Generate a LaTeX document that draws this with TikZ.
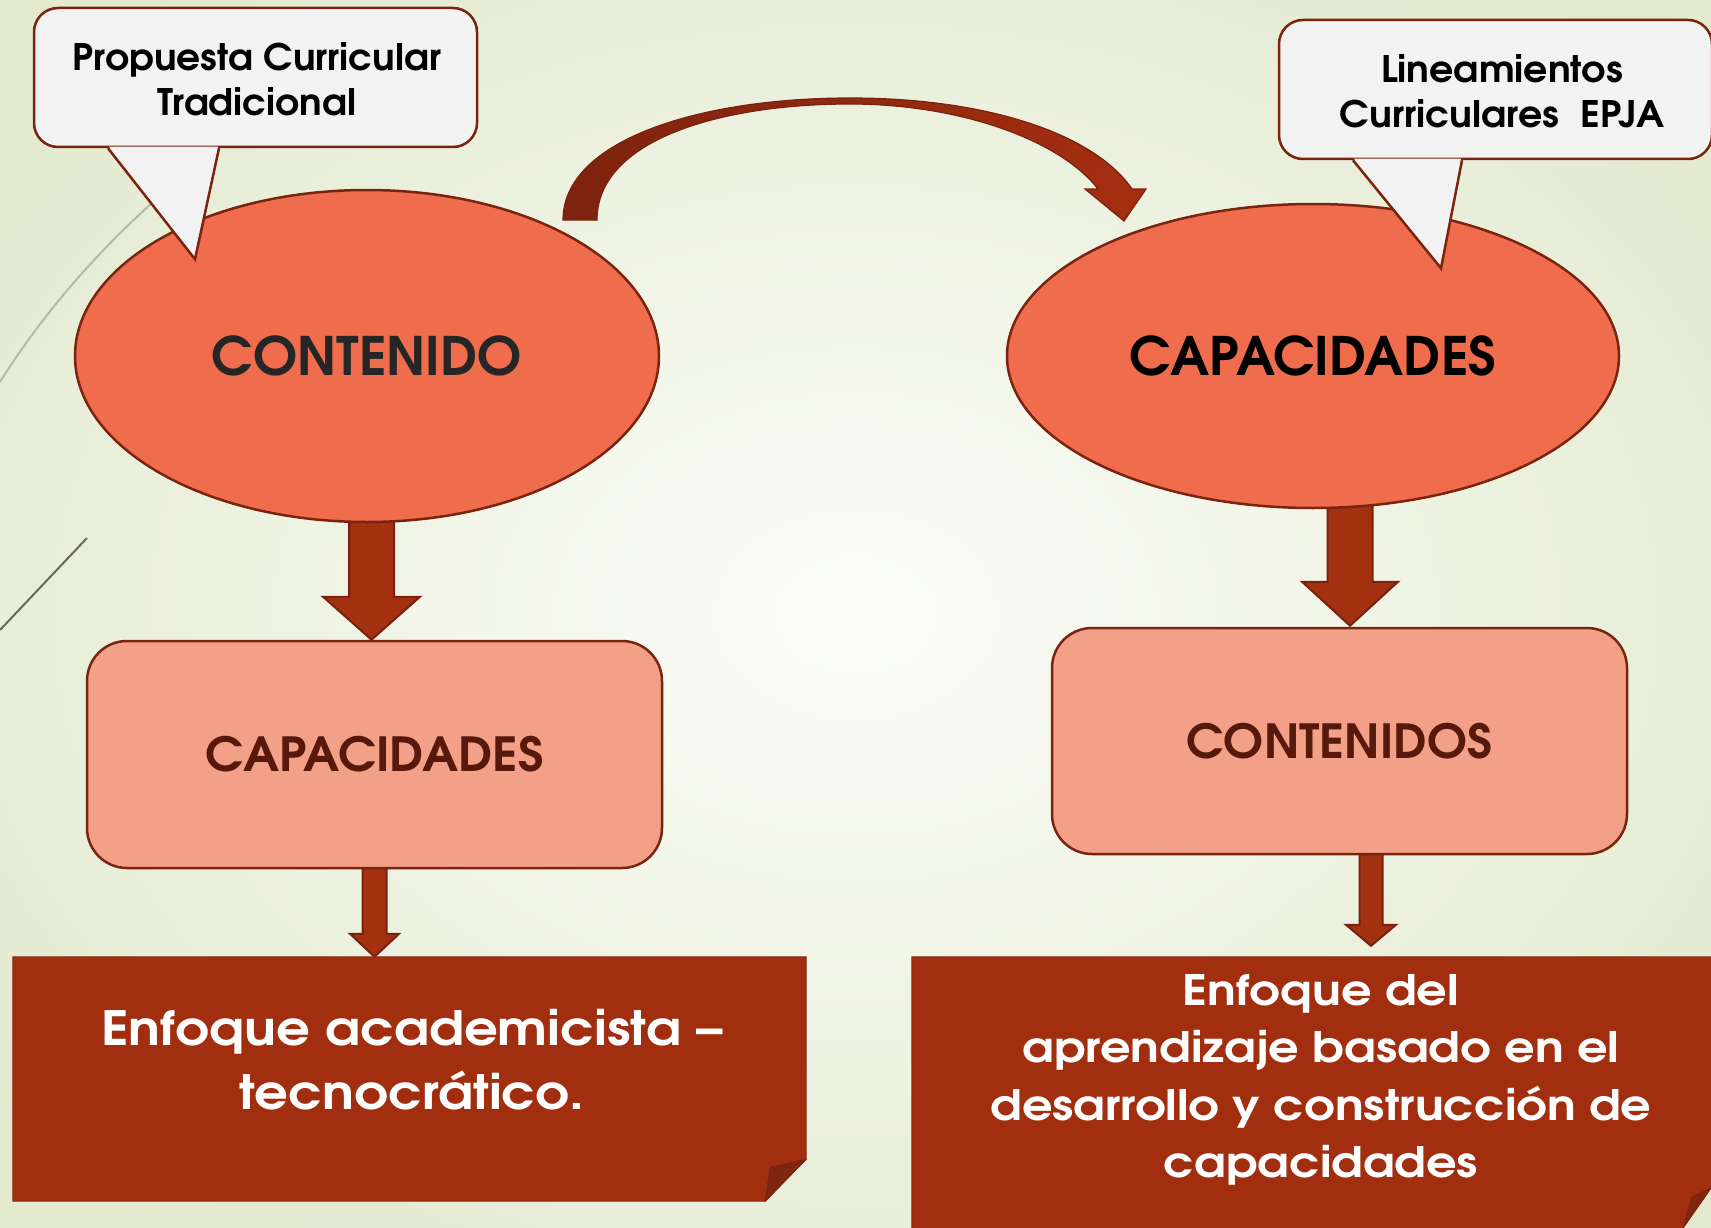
\documentclass[tikz,border=0pt]{standalone}
\usepackage{fontspec}
\usepackage{graphicx}
\usetikzlibrary{shapes.geometric,calc}
\newfontfamily\gothic{texgyreadventor}[Extension=.otf,UprightFont=*-regular,BoldFont=*-bold]
\definecolor{ellfill}{HTML}{EF6C4C}
\definecolor{edgec}{HTML}{7A2410}
\definecolor{boxfill}{HTML}{F3A088}
\definecolor{darkbox}{HTML}{A22E10}
\definecolor{foldc}{HTML}{80250F}
\definecolor{arrfill}{HTML}{A3300F}
\definecolor{arredge}{HTML}{7A2010}
\definecolor{callfill}{HTML}{F2F2F2}
\definecolor{boxtext}{HTML}{56190C}
\definecolor{elltext}{HTML}{262626}
\definecolor{bgin}{HTML}{FCFDF9}
\definecolor{bgout}{HTML}{E2E9CD}
\definecolor{arcL}{HTML}{7D230E}
\definecolor{arcR}{HTML}{A52E10}
\pgfdeclarelayer{bg}\pgfdeclarelayer{mid}\pgfsetlayers{bg,mid,main}
\newcommand\hs[2]{\scalebox{#1}[1]{#2}}
\newcommand\blockarrow[5]{%
  \path[blockarr] let \p1=#1, \p2=#2 in
    (\x2-#3pt,\y1) -- (\x2+#3pt,\y1) -- (\x2+#3pt,\y2+#5pt) -- (\x2+#4pt,\y2+#5pt)
    -- (\x2,\y2) -- (\x2-#4pt,\y2+#5pt) -- (\x2-#3pt,\y2+#5pt) -- cycle;}
\begin{document}
\begin{tikzpicture}[x=1pt,y=-1pt,
  ell/.style={ellipse, draw=edgec, line width=2.5pt, fill=ellfill, inner sep=0pt},
  rbox/.style={rectangle, rounded corners=40pt, draw=edgec, line width=2.5pt, fill=boxfill, inner sep=0pt},
  callbox/.style={rectangle, rounded corners=24pt, draw=edgec, line width=2.5pt, fill=callfill, inner sep=0pt},
  tailfill/.style={fill=callfill},
  tailedge/.style={draw=edgec, line width=2.5pt, line join=miter},
  blockarr/.style={fill=arrfill, draw=arredge, line width=2pt, line join=miter},
  darkshape/.style={fill=darkbox, draw=edgec!60!darkbox, line width=1pt},
  foldshape/.style={fill=foldc, draw=edgec, line width=0.8pt},
  calltext/.style={font=\gothic\bfseries\fontsize{36.5}{45}\selectfont, text=black, align=center, inner sep=0pt},
  elltxt/.style={font=\gothic\bfseries\fontsize{53}{60}\selectfont},
  boxtxt/.style={font=\gothic\bfseries\fontsize{47}{55}\selectfont, text=boxtext},
  whitetxt/.style={text=white, align=center, inner sep=0pt},
]
\useasboundingbox (0,0) rectangle (1711,1228);
% background
\begin{pgfonlayer}{bg}
\shade[inner color=bgin, outer color=bgout] (-250,-200) rectangle (1961,1428);
\draw[color=black!20!bgout, line width=2pt] (0,382) .. controls (45,310) and (100,250) .. (153,202);
\draw[color=black!55!bgout, line width=2pt] (0,630) -- (87,538);
\end{pgfonlayer}

% ellipses
\node[ell, minimum width=584pt, minimum height=332pt, elltxt, text=elltext] (e1) at (367,356) {CONTENIDO};
\node[ell, minimum width=612pt, minimum height=304pt, elltxt, text=black] (e2) at (1313,356) {CAPACIDADES};

% middle boxes
\node[rbox, minimum width=575pt, minimum height=227pt, boxtxt] (b1) at (374.5,754.5) {\hs{1.04}{CAPACIDADES}};
\node[rbox, minimum width=575pt, minimum height=226pt, boxtxt] (b2) at (1339.5,741) {\hs{1.02}{CONTENIDOS}};

% bottom boxes
\node[inner sep=0pt, minimum width=793pt, minimum height=244pt] (f1) at (409.5,1079) {};
\path[darkshape] (f1.north west) -- (f1.north east) -- ($(f1.south east)+(0,-42)$)
  -- ($(f1.south east)+(-41,0)$) -- (f1.south west) -- cycle;
\path[foldshape] ($(f1.south east)+(-41,0)$) -- ($(f1.south east)+(-36,-34)$) -- ($(f1.south east)+(0,-42)$) -- cycle;
\node[whitetxt, font=\gothic\bfseries\fontsize{47.3}{64}\selectfont] (f1t) at (412,1060)
  {\hs{1.12}{Enfoque academicista –}\\\hs{1.12}{tecnocrático.}};

\node[inner sep=0pt, minimum width=828pt, minimum height=303pt] (f2) at (1326,1108.5) {};
\path[darkshape] (f2.north west) -- (f2.north east) -- (1740,1150) -- (1711,1188) -- (1683,1228)
  -- (1680,1260) -- (f2.south west) -- cycle;
\path[foldshape] (1683,1228) -- (1692,1197) -- (1711,1188) -- cycle;
\node[whitetxt, font=\gothic\bfseries\fontsize{42}{57.3}\selectfont] (f2t) at (1321,1080)
  {\hs{1.14}{Enfoque del}\\\hs{1.14}{aprendizaje basado en el}\\\hs{1.14}{desarrollo y construcción de}\\\hs{1.14}{capacidades}};

% callouts
\node[callbox, minimum width=443pt, minimum height=139pt] (c1) at (255.5,77.5) {};
\path[tailfill] ($(c1.south)+(-146.5,-1.6)$) -- ($(c1.south)+(-60.5,111)$) -- ($(c1.south)+(-37.5,-1.6)$) -- cycle;
\draw[tailedge] ($(c1.south)+(-147.5,0)$) -- ($(c1.south)+(-60.5,111)$) -- ($(c1.south)+(-36.5,0)$);
\node[calltext] (c1t) at (257,79) {\hs{1.03}{Propuesta Curricular}\\\hs{1.03}{Tradicional}};

\node[callbox, minimum width=433pt, minimum height=139pt] (c2) at (1495.5,89.5) {};
\path[tailfill] ($(c2.south)+(-141.5,-1.6)$) -- ($(c2.south)+(-54.5,108)$) -- ($(c2.south)+(-34.5,-1.6)$) -- cycle;
\draw[tailedge] ($(c2.south)+(-142.5,0)$) -- ($(c2.south)+(-54.5,108)$) -- ($(c2.south)+(-33.5,0)$);
\node[calltext] (c2t) at (1502,91) {\hs{1.04}{Lineamientos}\\\hs{1.04}{Curriculares\ \ EPJA}};

% curved arrow from e1 to e2
\coordinate (ca1) at (580,220);
\coordinate (ca2) at (1124,221);
\path[draw=arredge, line width=1.2pt, left color=arcL, right color=arcR, line join=miter]
  ($(ca1)+(-17,0)$) .. controls (563,140) and (700,98) .. (850,98)
  .. controls (990,98) and (1095,135) .. (1132,189)
  -- (1146,189) -- (ca2) -- (1085,189) -- (1098,189)
  .. controls (1060,140) and (960,104) .. (850,104)
  .. controls (720,104) and (597,140) .. ($(ca1)+(17,0)$) -- cycle;

% straight block arrows
\begin{pgfonlayer}{mid}
\blockarrow{($(e1.center)+(4.5,0)$)}{($(b1.north)+(-3,0)$)}{22.5}{48.5}{43}
\blockarrow{(b1.center)}{(b1.south |- f1.north)}{12}{24.5}{23}
\blockarrow{(e2.center)}{($(b2.north)+(10.5,-1)$)}{22.5}{48}{44}
\blockarrow{($(b2.center)+(31.5,0)$)}{($(b2.south |- f2.north)+(31.5,-11)$)}{11.5}{25}{21}
\end{pgfonlayer}
\end{tikzpicture}
\end{document}
